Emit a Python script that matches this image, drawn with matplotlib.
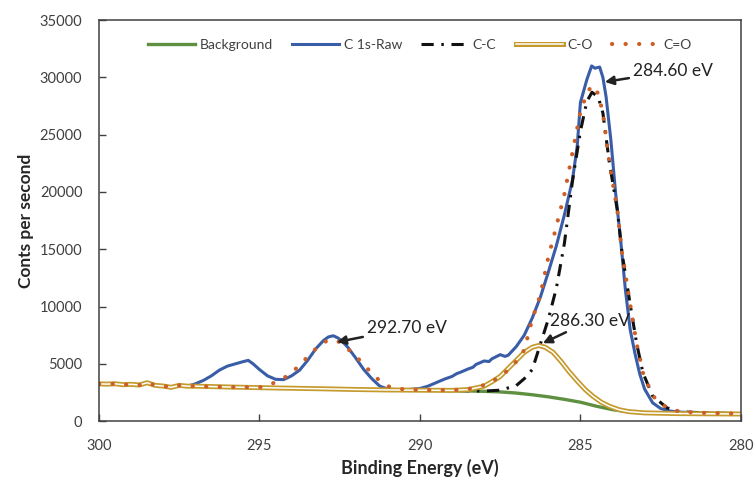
import matplotlib
matplotlib.use("Agg")
import matplotlib.pyplot as plt
import matplotlib.patheffects as pe

plt.rcParams['font.family'] = ['Lato', 'DejaVu Sans']

# shared noisy start of the spectrum (all curves sit on the raw data here)
edge_E = [300.0, 299.75, 299.5, 299.25, 299.0, 298.75, 298.5, 298.25, 298.0, 297.75, 297.5, 297.25]
edge_I = [3250, 3230, 3260, 3180, 3210, 3150, 3350, 3120, 3060, 2950, 3120, 3050]

# C 1s raw
raw_E = [297.0, 296.75, 296.5, 296.25, 296.0, 295.75, 295.5, 295.35, 295.2, 295.0,
         294.75, 294.5, 294.25, 294.0, 293.75, 293.5, 293.25, 293.0, 292.85, 292.7,
         292.55, 292.4, 292.25, 292.0, 291.75, 291.5, 291.25, 291.0, 290.75, 290.5,
         290.25, 290.0, 289.75, 289.5, 289.25, 289.0, 288.85, 288.75, 288.5, 288.35,
         288.25, 288.0, 287.85, 287.75, 287.5, 287.35, 287.25, 287.0, 286.75, 286.5,
         286.25, 286.0, 285.75, 285.5, 285.25, 285.1, 285.0, 284.8, 284.65, 284.55,
         284.4, 284.3, 284.2, 284.05, 283.9, 283.75, 283.6, 283.45, 283.3, 283.15,
         283.0, 282.75, 282.5, 282.25, 282.0, 281.5, 281.0, 280.5, 280.0]
raw_I = [3250, 3550, 3950, 4450, 4800, 5000, 5200, 5300, 5000, 4500,
         3950, 3650, 3620, 3950, 4450, 5300, 6300, 7050, 7350, 7450,
         7250, 6900, 6450, 5500, 4500, 3700, 3050, 2800, 2750, 2720,
         2780, 2850, 3050, 3350, 3650, 3900, 4150, 4250, 4550, 4700,
         4950, 5250, 5200, 5450, 5800, 5650, 5750, 6500, 7500, 9000,
         10800, 13000, 15300, 18000, 21000, 24000, 27800, 29800, 31000, 30800,
         30900, 30000, 28300, 24500, 19800, 15900, 11500, 8000, 5900, 4100,
         2800, 1600, 1100, 900, 800, 740, 700, 680, 650]

# Shirley background
bg_E = [297.0, 296.0, 295.0, 294.0, 293.0, 292.0, 291.0, 290.0, 289.0, 288.0,
        287.5, 287.0, 286.5, 286.0, 285.5, 285.0, 284.5, 284.0, 283.5, 283.0,
        282.0, 281.0, 280.0]
bg_I = [3050, 2980, 2920, 2870, 2820, 2760, 2720, 2700, 2670, 2600,
        2550, 2450, 2300, 2120, 1900, 1650, 1300, 1000, 820, 720,
        660, 640, 620]

# C-C component
cc_E = [297.0, 296.0, 295.0, 294.0, 293.0, 292.0, 291.0, 290.0, 289.0, 288.0,
        287.5, 287.0, 286.75, 286.5, 286.25, 286.0, 285.75, 285.5, 285.25, 285.0,
        284.8, 284.64, 284.45, 284.3, 284.1, 283.85, 283.7, 283.45, 283.25, 283.05,
        282.75, 282.3, 281.9, 281.0, 280.0]
cc_I = [3050, 2980, 2920, 2870, 2820, 2760, 2720, 2700, 2670, 2620,
        2700, 3100, 3700, 4500, 6700, 8900, 11600, 15500, 20900, 25300,
        27900, 28700, 28300, 26900, 22600, 18400, 14600, 10200, 6800, 4200,
        2200, 1150, 820, 700, 650]

# C-O component
co_E = [297.0, 296.0, 295.0, 294.0, 293.0, 292.0, 291.0, 290.0, 289.0, 288.5,
        288.25, 288.0, 287.75, 287.5, 287.25, 287.0, 286.75, 286.5, 286.3, 286.1,
        285.85, 285.6, 285.35, 285.1, 284.85, 284.6, 284.35, 284.1, 283.8, 283.5,
        283.0, 282.0, 280.0]
co_I = [3050, 2980, 2920, 2870, 2820, 2760, 2720, 2700, 2680, 2750,
        2900, 3050, 3450, 3900, 4600, 5300, 6000, 6450, 6600, 6450,
        6000, 5200, 4300, 3500, 2750, 2150, 1650, 1300, 1000, 830,
        720, 660, 620]

# C=O / envelope
fit_E = [297.0, 296.5, 296.0, 295.5, 295.0, 294.75, 294.5, 294.25, 294.0, 293.75,
         293.5, 293.25, 293.0, 292.75, 292.5, 292.25, 292.0, 291.75, 291.5, 291.25,
         291.0, 290.75, 290.5, 290.0, 289.5, 289.0, 288.5, 288.25, 288.0, 287.75,
         287.5, 287.25, 287.0, 286.75, 286.5, 286.25, 286.0, 285.75, 285.5, 285.25,
         285.0, 284.8, 284.64, 284.45, 284.3, 284.1, 283.85, 283.7, 283.45, 283.25,
         283.05, 282.75, 282.3, 281.9, 281.0, 280.0]
fit_I = [3050, 3000, 2980, 2960, 2950, 3100, 3400, 3750, 4200, 4900,
         5600, 6300, 6900, 7100, 6900, 6300, 5700, 4900, 4200, 3500,
         3050, 2850, 2780, 2720, 2700, 2700, 2800, 2950, 3150, 3450,
         3900, 4450, 5200, 6200, 8900, 11000, 14300, 17000, 19800, 23400,
         27000, 28600, 29300, 28600, 26900, 22600, 18400, 14600, 10200, 6800,
         4200, 2200, 1150, 820, 700, 650]

peak_labels = ["284.60 eV", "292.70 eV", "286.30 eV"]
peak_tips = [(284.24, 29600), (292.59, 6900), (286.17, 6800)]
peak_text = [(283.36, 30550), (291.65, 8100), (285.95, 8750)]

green = "#5E9040"
blue = "#3A5DA8"
gold = "#C59A2C"
orange = "#CC5F26"

fig = plt.figure(figsize=(7.56, 4.78), dpi=100)
ax = fig.add_axes([0.131, 0.119, 0.849, 0.839])

ax.plot(edge_E + bg_E, edge_I + bg_I, color=green, lw=2.4, label="Background")
ax.plot(edge_E + raw_E, edge_I + raw_I, color=blue, lw=2.2, label="C 1s-Raw")
ax.plot(edge_E + cc_E, edge_I + cc_I, color="#111111", lw=2.2,
        linestyle=(0, (4, 2.5, 0.8, 2.5)), label="C-C")
# double line: gold stroke with a white core
ax.plot(edge_E + co_E, edge_I + co_I, color="white", lw=1.1, label="C-O",
        path_effects=[pe.Stroke(linewidth=3.6, foreground=gold), pe.Normal()])
ax.plot(edge_E + fit_E, edge_I + fit_I, color=orange, lw=3.0,
        linestyle=(0, (0.05, 3.2)), dash_capstyle="round", label="C=O")

for lab, tip, txt in zip(peak_labels, peak_tips, peak_text):
    ax.annotate(lab, xy=tip, xytext=txt, fontsize=12.5, ha="left", va="center",
                color="#222222",
                arrowprops=dict(arrowstyle="-|>", color="#222222", lw=1.8,
                                mutation_scale=13, shrinkA=1, shrinkB=0))

ax.set_xlim(300, 280)
ax.set_ylim(0, 35000)
ax.set_xticks([300, 295, 290, 285, 280])
ax.set_yticks(range(0, 35001, 5000))
ax.tick_params(direction="in", length=5, width=1, labelsize=10.5,
               labelcolor="#404040", color="#404040")
ax.tick_params(axis="y", pad=12)
ax.tick_params(axis="x", pad=13)
for s in ax.spines.values():
    s.set_color("#404040")
    s.set_linewidth(1.1)

ax.set_xlabel("Binding Energy (eV)", fontsize=13, fontweight="bold", color="#262626")
ax.set_ylabel("Conts per second", fontsize=12.5, fontweight="bold", color="#262626")

ax.legend(loc="upper center", bbox_to_anchor=(0.5, 0.985), ncol=5, frameon=False,
          fontsize=10, handlelength=3.4, columnspacing=1.4, handletextpad=0.3,
          labelcolor="#404040")

fig.savefig("out.png", dpi=100)
